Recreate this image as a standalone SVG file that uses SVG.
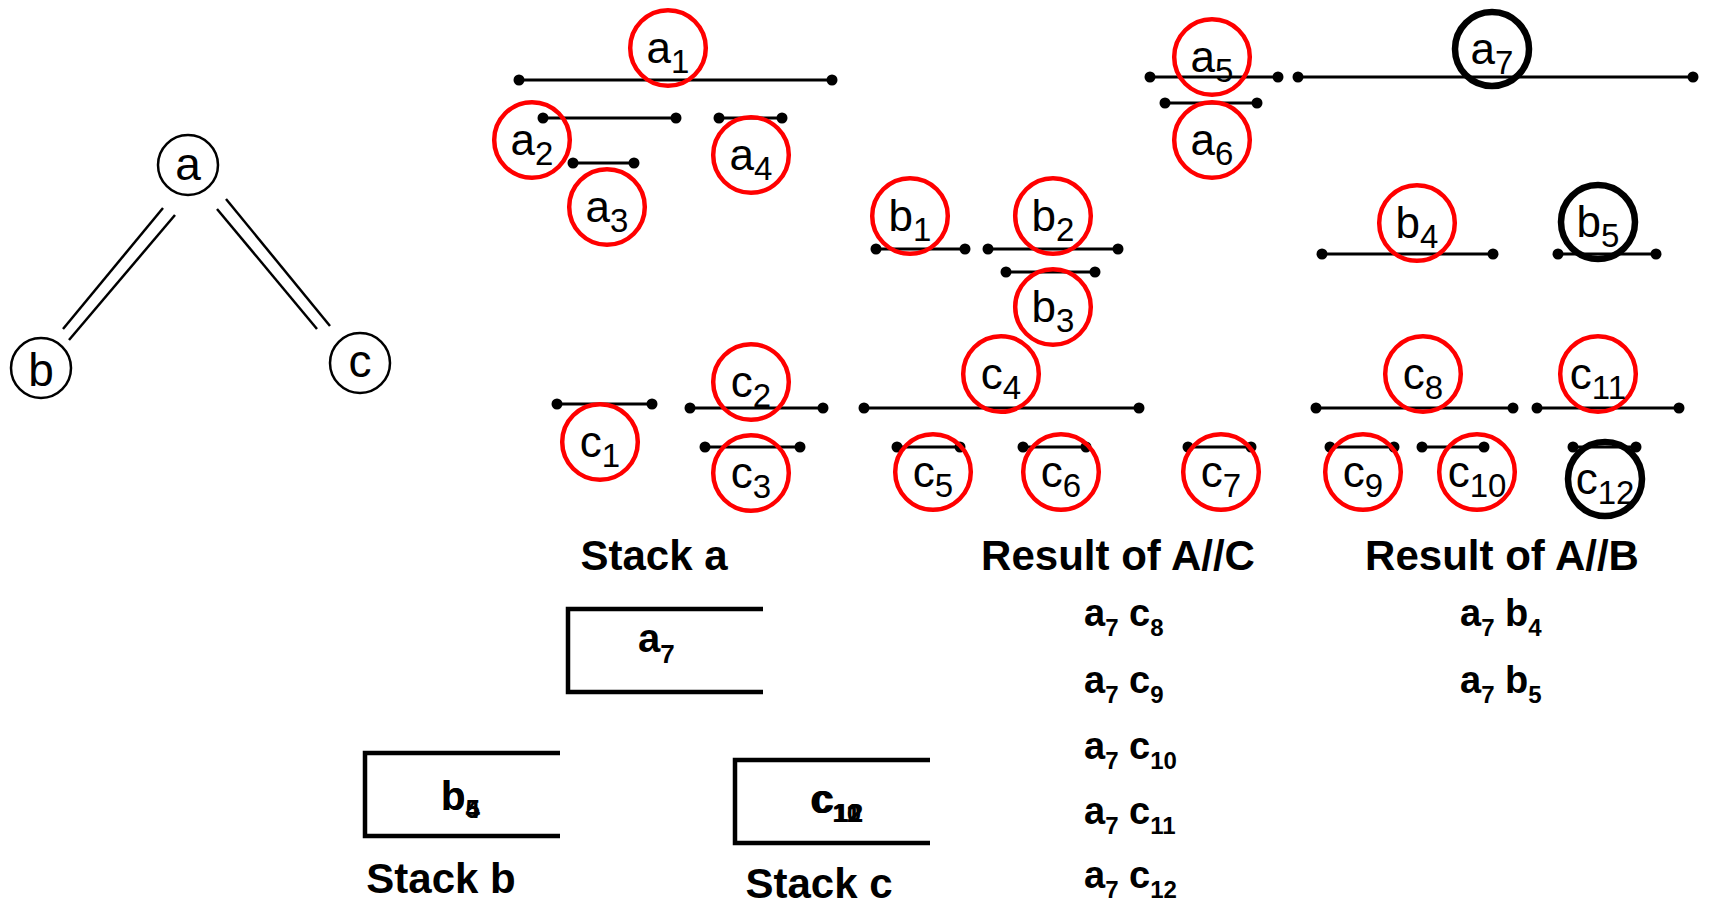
<svg xmlns="http://www.w3.org/2000/svg" width="1709" height="909" viewBox="0 0 1709 909">
<style>
.bg{fill:#fff}
.tn{fill:#fff;stroke:#000;stroke-width:2.5}
.tl{stroke:#000;stroke-width:2.5;fill:none}
.tt{font-family:"Liberation Sans",Arial,sans-serif;font-size:46px;text-anchor:middle;fill:#000}
.iv{stroke:#000;stroke-width:3;fill:none}
.dot{fill:#000}
.rc{fill:none;stroke:#f00;stroke-width:4.5}
.bc{fill:none;stroke:#000;stroke-width:6.5}
.lbl{font-family:"Liberation Sans",Arial,sans-serif;font-size:44px;text-anchor:middle;fill:#000}
.sub{font-size:33px}
.hd{font-family:"Liberation Sans",Arial,sans-serif;font-size:42px;font-weight:bold;text-anchor:middle;fill:#000}
.res{font-family:"Liberation Sans",Arial,sans-serif;font-size:38px;font-weight:bold;fill:#000}
.rs{font-size:24px}
.stk{stroke:#000;stroke-width:4.5;fill:none}
.st{font-family:"Liberation Sans",Arial,sans-serif;font-size:40px;font-weight:bold;fill:#000}
.ss{font-size:26px}
</style>
<rect class="bg" x="0" y="0" width="1709" height="909"/>

<g id="connectors">
  <line class="tl" x1="163" y1="208" x2="63" y2="329"/>
  <line class="tl" x1="175" y1="215" x2="69" y2="340"/>
  <line class="tl" x1="226" y1="199" x2="330" y2="326"/>
  <line class="tl" x1="217" y1="209" x2="317" y2="329"/>
</g>

<g id="tree-a"><circle class="tn" cx="188" cy="165" r="30"/><text class="tt" x="188" y="180">a</text></g>
<g id="tree-b"><circle class="tn" cx="41" cy="368" r="30"/><text class="tt" x="41" y="386">b</text></g>
<g id="tree-c"><circle class="tn" cx="360" cy="363" r="30"/><text class="tt" x="360" y="377">c</text></g>

<g id="intervals">
  <g id="a1"><line class="iv" x1="519" y1="80" x2="832" y2="80"/><circle class="dot" cx="519" cy="80" r="5.5"/><circle class="dot" cx="832" cy="80" r="5.5"/></g>
  <g id="a2"><line class="iv" x1="543" y1="118" x2="676" y2="118"/><circle class="dot" cx="543" cy="118" r="5.5"/><circle class="dot" cx="676" cy="118" r="5.5"/></g>
  <g id="a3"><line class="iv" x1="573" y1="163" x2="634" y2="163"/><circle class="dot" cx="573" cy="163" r="5.5"/><circle class="dot" cx="634" cy="163" r="5.5"/></g>
  <g id="a4"><line class="iv" x1="719" y1="118" x2="782" y2="118"/><circle class="dot" cx="719" cy="118" r="5.5"/><circle class="dot" cx="782" cy="118" r="5.5"/></g>
  <g id="a5"><line class="iv" x1="1150" y1="77" x2="1278" y2="77"/><circle class="dot" cx="1150" cy="77" r="5.5"/><circle class="dot" cx="1278" cy="77" r="5.5"/></g>
  <g id="a6"><line class="iv" x1="1165" y1="103" x2="1257" y2="103"/><circle class="dot" cx="1165" cy="103" r="5.5"/><circle class="dot" cx="1257" cy="103" r="5.5"/></g>
  <g id="a7"><line class="iv" x1="1298" y1="77" x2="1693" y2="77"/><circle class="dot" cx="1298" cy="77" r="5.5"/><circle class="dot" cx="1693" cy="77" r="5.5"/></g>
  <g id="b1"><line class="iv" x1="876" y1="249" x2="965" y2="249"/><circle class="dot" cx="876" cy="249" r="5.5"/><circle class="dot" cx="965" cy="249" r="5.5"/></g>
  <g id="b2"><line class="iv" x1="988" y1="249" x2="1118" y2="249"/><circle class="dot" cx="988" cy="249" r="5.5"/><circle class="dot" cx="1118" cy="249" r="5.5"/></g>
  <g id="b3"><line class="iv" x1="1006" y1="272" x2="1095" y2="272"/><circle class="dot" cx="1006" cy="272" r="5.5"/><circle class="dot" cx="1095" cy="272" r="5.5"/></g>
  <g id="b4"><line class="iv" x1="1322" y1="254" x2="1493" y2="254"/><circle class="dot" cx="1322" cy="254" r="5.5"/><circle class="dot" cx="1493" cy="254" r="5.5"/></g>
  <g id="b5"><line class="iv" x1="1558" y1="254" x2="1656" y2="254"/><circle class="dot" cx="1558" cy="254" r="5.5"/><circle class="dot" cx="1656" cy="254" r="5.5"/></g>
  <g id="c1"><line class="iv" x1="557" y1="404" x2="652" y2="404"/><circle class="dot" cx="557" cy="404" r="5.5"/><circle class="dot" cx="652" cy="404" r="5.5"/></g>
  <g id="c2"><line class="iv" x1="690" y1="408" x2="823" y2="408"/><circle class="dot" cx="690" cy="408" r="5.5"/><circle class="dot" cx="823" cy="408" r="5.5"/></g>
  <g id="c3"><line class="iv" x1="705" y1="447" x2="800" y2="447"/><circle class="dot" cx="705" cy="447" r="5.5"/><circle class="dot" cx="800" cy="447" r="5.5"/></g>
  <g id="c4"><line class="iv" x1="864" y1="408" x2="1139" y2="408"/><circle class="dot" cx="864" cy="408" r="5.5"/><circle class="dot" cx="1139" cy="408" r="5.5"/></g>
  <g id="c5"><line class="iv" x1="897" y1="447" x2="960" y2="447"/><circle class="dot" cx="897" cy="447" r="5.5"/><circle class="dot" cx="960" cy="447" r="5.5"/></g>
  <g id="c6"><line class="iv" x1="1023" y1="447" x2="1086" y2="447"/><circle class="dot" cx="1023" cy="447" r="5.5"/><circle class="dot" cx="1086" cy="447" r="5.5"/></g>
  <g id="c7"><line class="iv" x1="1188" y1="447" x2="1251" y2="447"/><circle class="dot" cx="1188" cy="447" r="5.5"/><circle class="dot" cx="1251" cy="447" r="5.5"/></g>
  <g id="c8"><line class="iv" x1="1316" y1="408" x2="1513" y2="408"/><circle class="dot" cx="1316" cy="408" r="5.5"/><circle class="dot" cx="1513" cy="408" r="5.5"/></g>
  <g id="c9"><line class="iv" x1="1330" y1="447" x2="1394" y2="447"/><circle class="dot" cx="1330" cy="447" r="5.5"/><circle class="dot" cx="1394" cy="447" r="5.5"/></g>
  <g id="c10"><line class="iv" x1="1422" y1="447" x2="1484" y2="447"/><circle class="dot" cx="1422" cy="447" r="5.5"/><circle class="dot" cx="1484" cy="447" r="5.5"/></g>
  <g id="c11"><line class="iv" x1="1537" y1="408" x2="1679" y2="408"/><circle class="dot" cx="1537" cy="408" r="5.5"/><circle class="dot" cx="1679" cy="408" r="5.5"/></g>
  <g id="c12"><line class="iv" x1="1573" y1="447" x2="1636" y2="447"/><circle class="dot" cx="1573" cy="447" r="5.5"/><circle class="dot" cx="1636" cy="447" r="5.5"/></g>
</g>

<g id="labels">
  <g id="lab-a1"><circle class="rc" cx="668" cy="48" r="37.8"/><text class="lbl" x="668" y="63">a<tspan class="sub" dy="10">1</tspan></text></g>
  <g id="lab-a2"><circle class="rc" cx="532" cy="140" r="37.8"/><text class="lbl" x="532" y="155">a<tspan class="sub" dy="10">2</tspan></text></g>
  <g id="lab-a3"><circle class="rc" cx="607" cy="207" r="37.8"/><text class="lbl" x="607" y="222">a<tspan class="sub" dy="10">3</tspan></text></g>
  <g id="lab-a4"><circle class="rc" cx="751" cy="155" r="37.8"/><text class="lbl" x="751" y="170">a<tspan class="sub" dy="10">4</tspan></text></g>
  <g id="lab-a5"><circle class="rc" cx="1212" cy="57" r="37.8"/><text class="lbl" x="1212" y="72">a<tspan class="sub" dy="10">5</tspan></text></g>
  <g id="lab-a6"><circle class="rc" cx="1212" cy="140" r="37.8"/><text class="lbl" x="1212" y="155">a<tspan class="sub" dy="10">6</tspan></text></g>
  <g id="lab-a7"><circle class="bc" cx="1492" cy="49" r="37"/><text class="lbl" x="1492" y="64">a<tspan class="sub" dy="10">7</tspan></text></g>
  <g id="lab-b1"><circle class="rc" cx="910" cy="216" r="37.8"/><text class="lbl" x="910" y="231">b<tspan class="sub" dy="10">1</tspan></text></g>
  <g id="lab-b2"><circle class="rc" cx="1053" cy="216" r="37.8"/><text class="lbl" x="1053" y="231">b<tspan class="sub" dy="10">2</tspan></text></g>
  <g id="lab-b3"><circle class="rc" cx="1053" cy="307" r="37.8"/><text class="lbl" x="1053" y="322">b<tspan class="sub" dy="10">3</tspan></text></g>
  <g id="lab-b4"><circle class="rc" cx="1417" cy="223" r="37.8"/><text class="lbl" x="1417" y="238">b<tspan class="sub" dy="10">4</tspan></text></g>
  <g id="lab-b5"><circle class="bc" cx="1598" cy="222" r="37"/><text class="lbl" x="1598" y="237">b<tspan class="sub" dy="10">5</tspan></text></g>
  <g id="lab-c1"><circle class="rc" cx="600" cy="442" r="37.8"/><text class="lbl" x="600" y="457">c<tspan class="sub" dy="10">1</tspan></text></g>
  <g id="lab-c2"><circle class="rc" cx="751" cy="382" r="37.8"/><text class="lbl" x="751" y="397">c<tspan class="sub" dy="10">2</tspan></text></g>
  <g id="lab-c3"><circle class="rc" cx="751" cy="473" r="37.8"/><text class="lbl" x="751" y="488">c<tspan class="sub" dy="10">3</tspan></text></g>
  <g id="lab-c4"><circle class="rc" cx="1001" cy="374" r="37.8"/><text class="lbl" x="1001" y="389">c<tspan class="sub" dy="10">4</tspan></text></g>
  <g id="lab-c5"><circle class="rc" cx="933" cy="472" r="37.8"/><text class="lbl" x="933" y="487">c<tspan class="sub" dy="10">5</tspan></text></g>
  <g id="lab-c6"><circle class="rc" cx="1061" cy="472" r="37.8"/><text class="lbl" x="1061" y="487">c<tspan class="sub" dy="10">6</tspan></text></g>
  <g id="lab-c7"><circle class="rc" cx="1221" cy="472" r="37.8"/><text class="lbl" x="1221" y="487">c<tspan class="sub" dy="10">7</tspan></text></g>
  <g id="lab-c8"><circle class="rc" cx="1423" cy="374" r="37.8"/><text class="lbl" x="1423" y="389">c<tspan class="sub" dy="10">8</tspan></text></g>
  <g id="lab-c9"><circle class="rc" cx="1363" cy="472" r="37.8"/><text class="lbl" x="1363" y="487">c<tspan class="sub" dy="10">9</tspan></text></g>
  <g id="lab-c10"><circle class="rc" cx="1477" cy="472" r="37.8"/><text class="lbl" x="1477" y="487">c<tspan class="sub" dy="10">10</tspan></text></g>
  <g id="lab-c11"><circle class="rc" cx="1598" cy="374" r="37.8"/><text class="lbl" x="1598" y="389">c<tspan class="sub" dy="10">11</tspan></text></g>
  <g id="lab-c12"><circle class="bc" cx="1605" cy="479" r="37"/><text class="lbl" x="1605" y="494">c<tspan class="sub" dy="10">12</tspan></text></g>
</g>

<g id="headers">
  <text class="hd" x="654" y="570">Stack a</text>
  <text class="hd" x="1118" y="570">Result of A//C</text>
  <text class="hd" x="1502" y="570">Result of A//B</text>
  <text class="hd" x="441" y="893">Stack b</text>
  <text class="hd" x="819" y="898">Stack c</text>
</g>

<g id="stack-a"><path class="stk" d="M763,609 H568 V692 H763"/><text class="st" x="638" y="652">a<tspan class="ss" dy="11">7</tspan></text></g>
<g id="stack-b"><path class="stk" d="M560,753 H365 V836 H560"/>
  <text class="st" x="441" y="810">b<tspan class="ss" dy="8">4</tspan></text>
  <text class="st" x="441" y="810">b<tspan class="ss" dy="8">5</tspan></text></g>
<g id="stack-c"><path class="stk" d="M930,760 H735 V843 H930"/>
  <text class="st" x="810" y="813">c<tspan class="ss" dy="9">10</tspan></text>
  <text class="st" x="811" y="813">c<tspan class="ss" dy="9">11</tspan></text>
  <text class="st" x="812" y="813">c<tspan class="ss" dy="9">12</tspan></text></g>

<g id="results">
  <text class="res" x="1084" y="626">a<tspan class="rs" dy="10">7</tspan><tspan dy="-10"> c</tspan><tspan class="rs" dy="10">8</tspan></text>
  <text class="res" x="1084" y="693">a<tspan class="rs" dy="10">7</tspan><tspan dy="-10"> c</tspan><tspan class="rs" dy="10">9</tspan></text>
  <text class="res" x="1084" y="759">a<tspan class="rs" dy="10">7</tspan><tspan dy="-10"> c</tspan><tspan class="rs" dy="10">10</tspan></text>
  <text class="res" x="1084" y="824">a<tspan class="rs" dy="10">7</tspan><tspan dy="-10"> c</tspan><tspan class="rs" dy="10">11</tspan></text>
  <text class="res" x="1084" y="888">a<tspan class="rs" dy="10">7</tspan><tspan dy="-10"> c</tspan><tspan class="rs" dy="10">12</tspan></text>
  <text class="res" x="1460" y="626">a<tspan class="rs" dy="10">7</tspan><tspan dy="-10"> b</tspan><tspan class="rs" dy="10">4</tspan></text>
  <text class="res" x="1460" y="693">a<tspan class="rs" dy="10">7</tspan><tspan dy="-10"> b</tspan><tspan class="rs" dy="10">5</tspan></text>
</g>
</svg>
